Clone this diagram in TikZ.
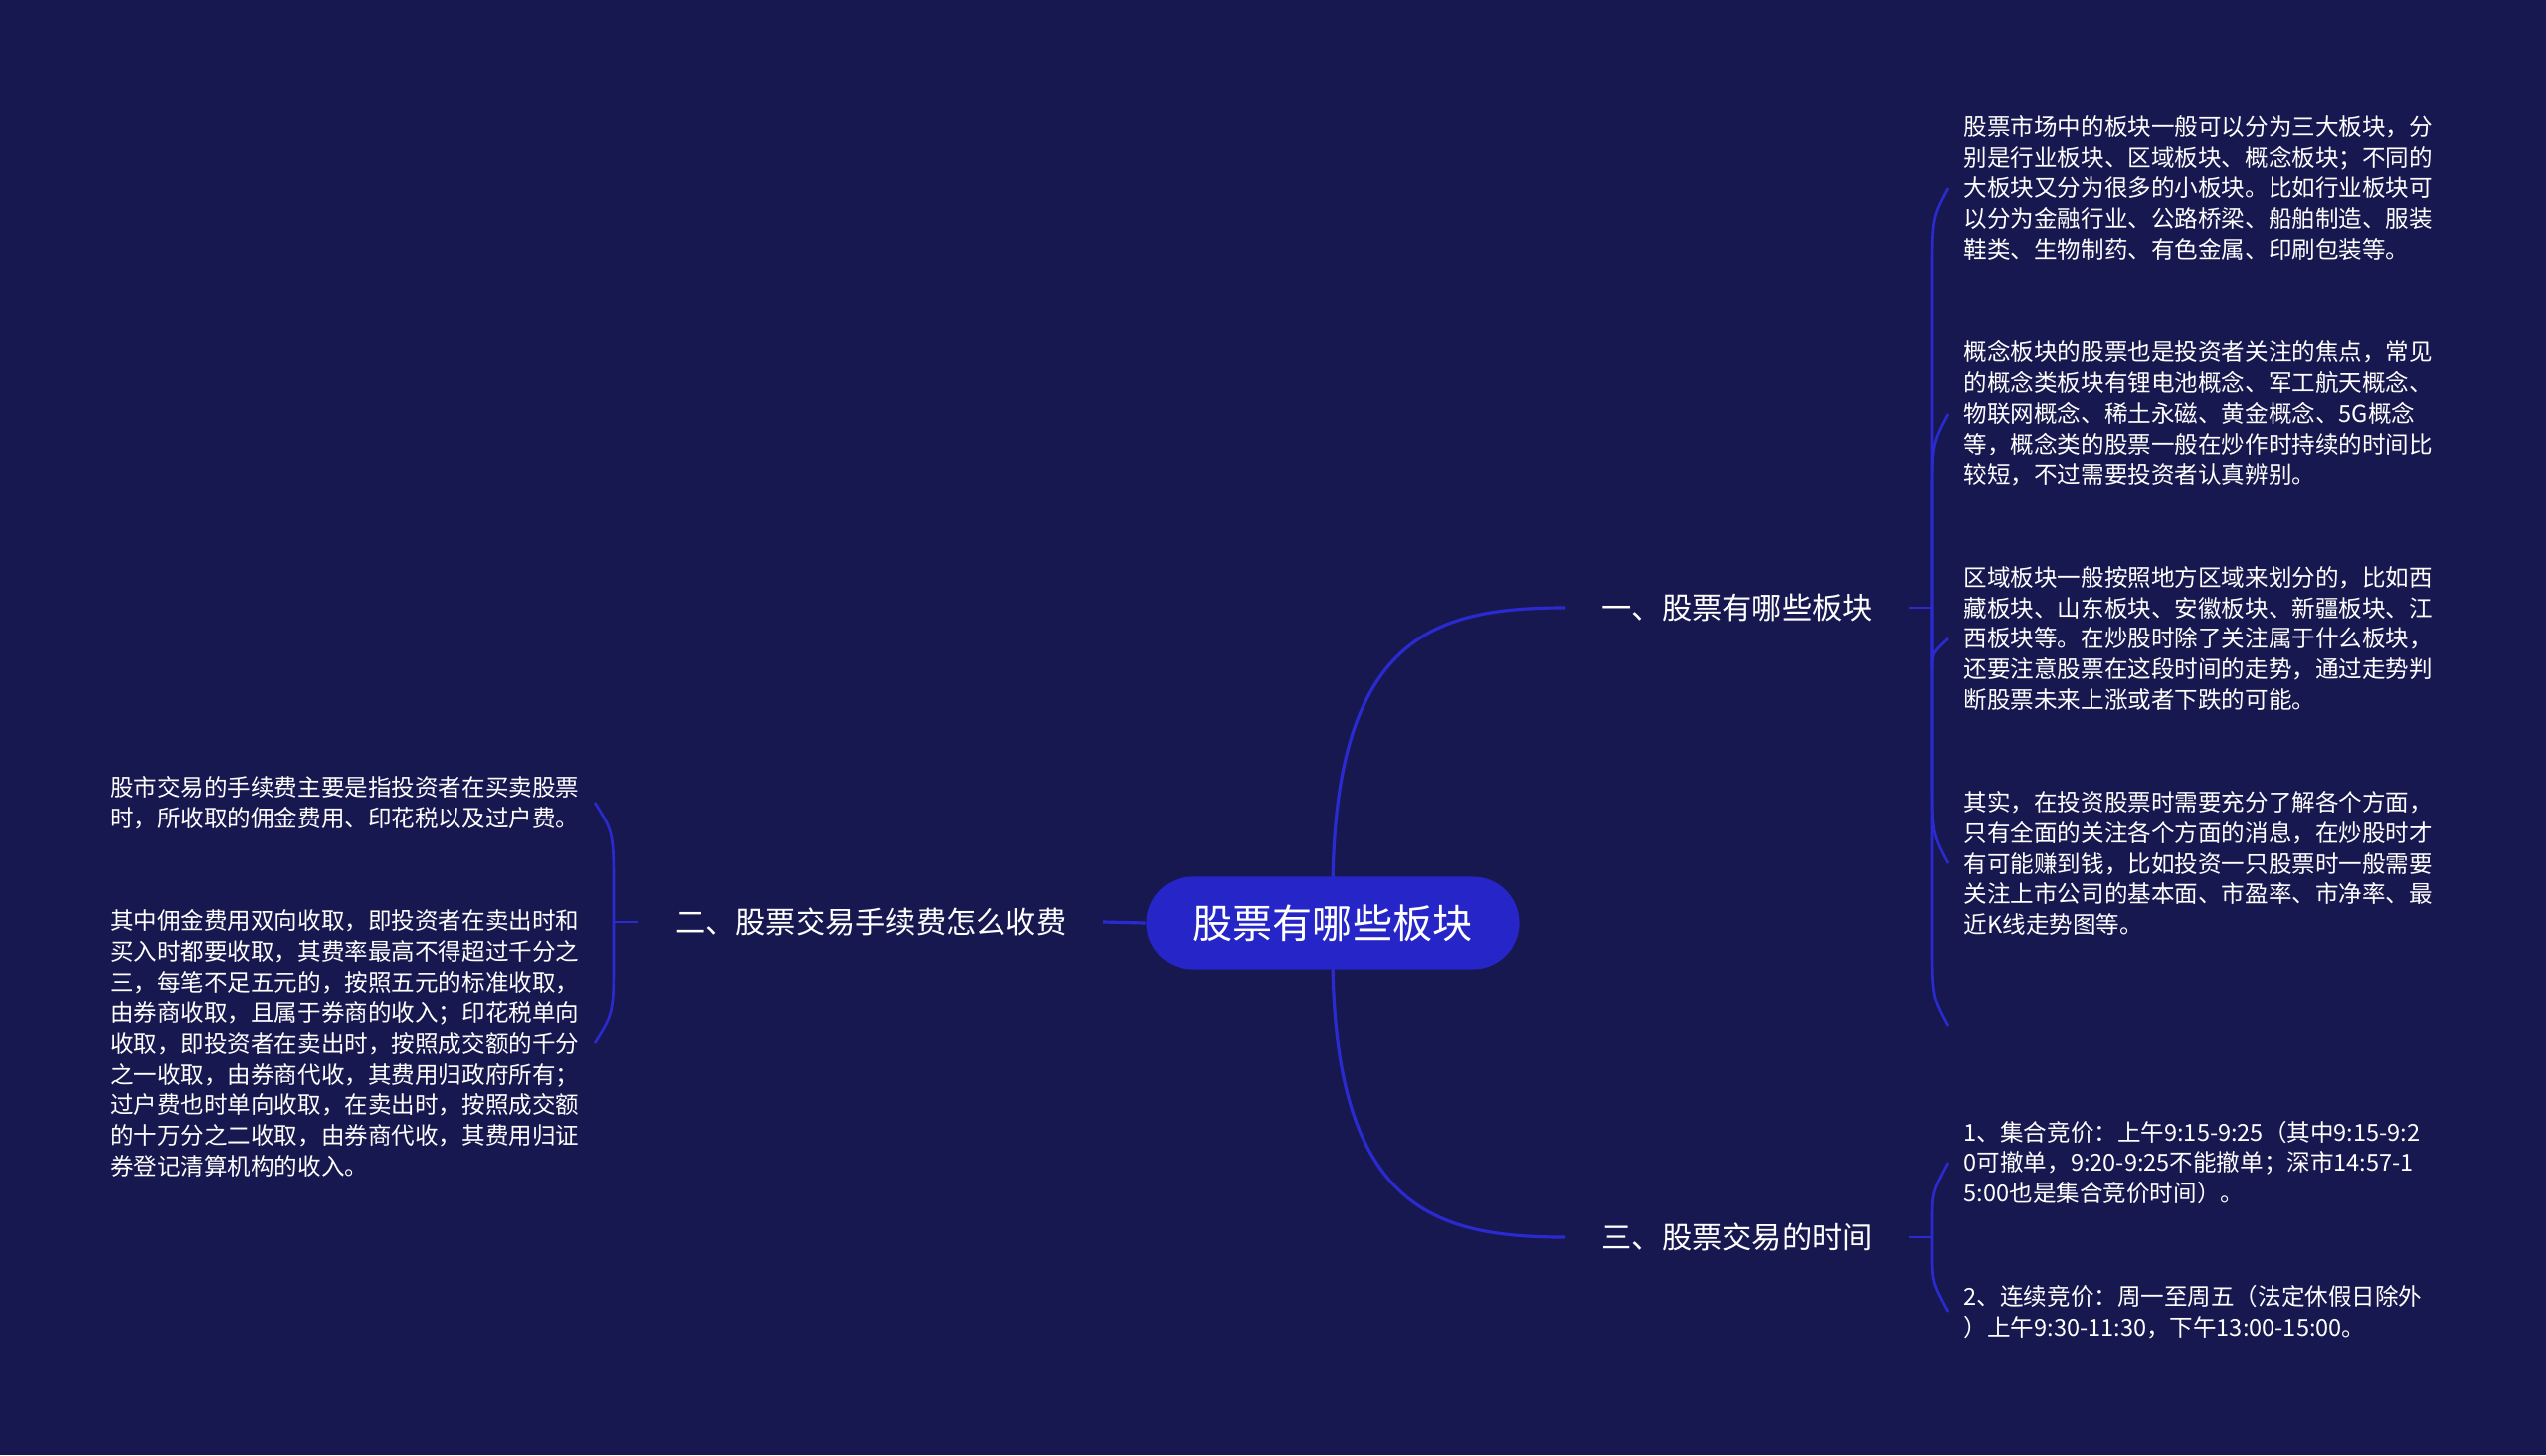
\documentclass[tikz,border=0pt]{standalone}
\usepackage{fontspec}
\setmainfont{Noto Sans CJK SC}
\definecolor{bg}{HTML}{181850}
\definecolor{ln}{HTML}{2A2AD0}
\definecolor{pill}{HTML}{2525C8}
\begin{document}
\begin{tikzpicture}[x=0.01cm,y=-0.01cm,
  mainln/.style={draw=ln,line width=0.9pt},
  brln/.style={draw=ln,line width=0.75pt},
  centre/.style={fill=pill,text=white,rounded corners=0.465cm,minimum width=3.75cm,minimum height=0.93cm,font=\fontsize{11.4}{13}\selectfont,inner sep=0pt},
  branch/.style={text=white,inner xsep=0.36cm,inner ysep=0pt,font=\fontsize{8.6}{10}\selectfont},
  leaf/.style={text=white,align=left,inner xsep=0.15cm,inner ysep=0pt,font=\fontsize{6.7}{8.8}\selectfont}]
\fill[bg] (0,0) rectangle (2560,1463);
\useasboundingbox (0,0) rectangle (2560,1463);

% nodes
\node[branch,anchor=west] (b1) at (1574,611) {一、股票有哪些板块};
\node[branch,anchor=west] (b3) at (1574,1244) {三、股票交易的时间};
\node[branch,anchor=east] (b2) at (1109,927) {二、股票交易手续费怎么收费};

\node[leaf,anchor=west] (l1) at (1959,189) {股票市场中的板块一般可以分为三大板块，分\\别是行业板块、区域板块、概念板块；不同的\\大板块又分为很多的小板块。比如行业板块可\\以分为金融行业、公路桥梁、船舶制造、服装\\鞋类、生物制药、有色金属、印刷包装等。};
\node[leaf,anchor=west] (l2) at (1959,416) {概念板块的股票也是投资者关注的焦点，常见\\的概念类板块有锂电池概念、军工航天概念、\\物联网概念、稀土永磁、黄金概念、5G概念\\等，概念类的股票一般在炒作时持续的时间比\\较短，不过需要投资者认真辨别。};
\node[leaf,anchor=west] (l3) at (1959,642) {区域板块一般按照地方区域来划分的，比如西\\藏板块、山东板块、安徽板块、新疆板块、江\\西板块等。在炒股时除了关注属于什么板块，\\还要注意股票在这段时间的走势，通过走势判\\断股票未来上涨或者下跌的可能。};
\node[leaf,anchor=west] (l4) at (1959,868) {其实，在投资股票时需要充分了解各个方面，\\只有全面的关注各个方面的消息，在炒股时才\\有可能赚到钱，比如投资一只股票时一般需要\\关注上市公司的基本面、市盈率、市净率、最\\近K线走势图等。};
\coordinate (l5) at (1959,1032);

\node[leaf,anchor=west] (t1) at (1959,1169) {1、集合竞价：上午9:15-9:25（其中9:15-9:2\\0可撤单，9:20-9:25不能撤单；深市14:57-1\\5:00也是集合竞价时间）。};
\node[leaf,anchor=west] (t2) at (1959,1319) {2、连续竞价：周一至周五（法定休假日除外\\）上午9:30-11:30，下午13:00-15:00。};

\node[leaf,anchor=east] (la) at (598,807) {股市交易的手续费主要是指投资者在买卖股票\\时，所收取的佣金费用、印花税以及过户费。};
\node[leaf,anchor=east] (lb) at (598,1049) {其中佣金费用双向收取，即投资者在卖出时和\\买入时都要收取，其费率最高不得超过千分之\\三，每笔不足五元的，按照五元的标准收取，\\由券商收取，且属于券商的收入；印花税单向\\收取，即投资者在卖出时，按照成交额的千分\\之一收取，由券商代收，其费用归政府所有；\\过户费也时单向收取，在卖出时，按照成交额\\的十万分之二收取，由券商代收，其费用归证\\券登记清算机构的收入。};

\coordinate (j1) at (1943,611);
\coordinate (j3) at (1943,1244);
\coordinate (j2) at (617,927);
\coordinate (ctop) at (1340,900);
\coordinate (cbot) at (1340,957);

% main connectors
\draw[mainln] (ctop) .. controls (1340,640) and (1440,611) .. (b1.west);
\draw[mainln] (cbot) .. controls (1340,1214) and (1440,1244) .. (b3.west);
\node[centre] (c) at (1340,928) {股票有哪些板块};
\draw[mainln] (b2.east) -- (c.west);

% right bracket 1
\draw[brln] (b1.east) -- (j1);
\draw[brln] (j1) -- (1943,279) .. controls (1943,219) .. (l1.west);
\draw[brln] (j1) -- (1943,506) .. controls (1943,446) .. (l2.west);
\draw[brln] (j1) -- (1943,672) .. controls (1943,657) .. (l3.west);
\draw[brln] (j1) -- (1943,778) .. controls (1943,838) .. (l4.west);
\draw[brln] (j1) -- (1943,942) .. controls (1943,1002) .. (l5);

% right bracket 3
\draw[brln] (b3.east) -- (j3);
\draw[brln] (j3) -- (1943,1229) .. controls (1943,1199) .. (t1.west);
\draw[brln] (j3) -- (1943,1259) .. controls (1943,1289) .. (t2.west);

% left bracket
\draw[brln] (b2.west) -- (j2);
\draw[brln] (j2) -- (617,897) .. controls (617,837) .. (la.east);
\draw[brln] (j2) -- (617,959) .. controls (617,1019) .. (lb.east);
\end{tikzpicture}
\end{document}
